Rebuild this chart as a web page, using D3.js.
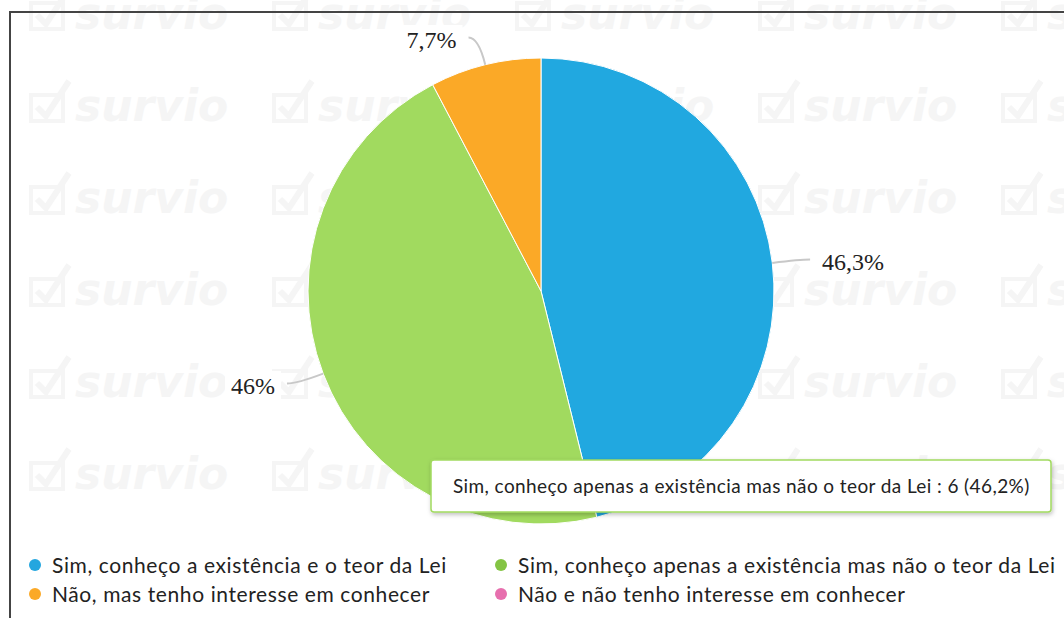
<!DOCTYPE html>
<html>
<head>
<meta charset="utf-8">
<script src="https://cdn.jsdelivr.net/npm/d3@7"></script>
<style>
  html, body { margin: 0; padding: 0; background: #fff; }
  svg { display: block; }
</style>
</head>
<body>
<div id="chart"></div>
<script>
(function () {
  // Data
  const categories = [
    "Sim, conheço a existência e o teor da Lei",
    "Sim, conheço apenas a existência mas não o teor da Lei",
    "Não, mas tenho interesse em conhecer",
    "Não e não tenho interesse em conhecer",
  ];
  const counts = [6, 6, 1, 0];
  const pctLabels = ["46,3%", "46%", "7,7%", ""];
  const colors = ["#21a8e0", "#a1da5f", "#fba927", "#e76fae"];
  const legendColors = ["#23a6df", "#84c444", "#fba927", "#e76fae"];
  const tooltipIndex = 1;
  const tooltipPct = "46,2%";

  // Dimensions
  const width = 1064;
  const height = 618;
  const cx = 541;
  const cy = 291;
  const radius = 233;

  const svg = d3
    .select("#chart")
    .append("svg")
    .attr("width", width)
    .attr("height", height);

  // Watermark
  const wmColor = "#f5f5f5";
  const wm = svg.append("g").attr("fill", wmColor).attr("stroke", wmColor);
  const wmCols = d3.range(5).map((i) => 27 + i * 243);
  const wmRows = d3.range(6).map((i) => 29 + i * 92);
  wmRows.forEach((y) => {
    wmCols.forEach((x) => {
      const t = wm.append("g").attr("transform", `translate(${x},${y})`);
      t.append("rect")
        .attr("x", 4)
        .attr("y", -26)
        .attr("width", 32)
        .attr("height", 26)
        .attr("fill", "none")
        .attr("stroke-width", 4);
      t.append("path")
        .attr("d", "M10,-14 L19,-5 L42,-40")
        .attr("fill", "none")
        .attr("stroke-width", 6);
      t.append("text")
        .attr("x", 48)
        .attr("y", 0)
        .attr("stroke", "none")
        .style("font-family", "'DejaVu Sans', sans-serif")
        .style("font-weight", "bold")
        .style("font-style", "italic")
        .style("font-size", "44px")
        .text("survio");
    });
  });

  // Frame
  svg.append("path")
    .attr("d", `M10,${height} L10,12 L${width},12`)
    .attr("fill", "none")
    .attr("stroke", "#444")
    .attr("stroke-width", 2);

  // Pie
  const pie = d3.pie().sort(null).value((d) => d.count);
  const rows = categories.map((c, i) => ({
    name: c,
    count: counts[i],
    label: pctLabels[i],
    color: colors[i],
  }));
  const arcs = pie(rows);
  const arc = d3.arc().innerRadius(0).outerRadius(radius);

  const g = svg.append("g").attr("transform", `translate(${cx},${cy})`);
  g.selectAll("path.slice")
    .data(arcs.filter((a) => a.data.count > 0))
    .join("path")
    .attr("class", "slice")
    .attr("d", arc)
    .attr("fill", (d) => d.data.color)
    .attr("stroke", "#fff")
    .attr("stroke-width", 1);

  // Data labels
  const polar = (a, r) => [Math.sin(a) * r, -Math.cos(a) * r];
  const labeled = arcs.filter((a) => a.data.count > 0);
  labeled.forEach((d) => {
    const mid = (d.startAngle + d.endAngle) / 2;
    const right = Math.sin(mid) >= 0;
    const side = right ? 1 : -1;
    const p0 = polar(mid, radius);
    const p1 = polar(mid, radius + 28);
    const p2 = [p1[0] + side * 10, p1[1]];
    g.append("path")
      .attr("d", `M${p0[0]},${p0[1]} Q${p1[0]},${p1[1]} ${p2[0]},${p2[1]}`)
      .attr("fill", "none")
      .attr("stroke", "#c8c8c8")
      .attr("stroke-width", 2);
    const text = g.append("text")
      .attr("x", p2[0] + side * 12)
      .attr("y", p2[1] + 2)
      .attr("dy", "0.35em")
      .attr("text-anchor", right ? "start" : "end")
      .style("font-family", "'Liberation Serif', serif")
      .style("font-size", "24px")
      .attr("fill", "#222")
      .text(d.data.label);
    const bb = text.node().getBBox();
    g.insert("rect", "text")
      .attr("x", bb.x - 6)
      .attr("y", bb.y - 2)
      .attr("width", bb.width + 12)
      .attr("height", bb.height + 4)
      .attr("fill", "#fff");
  });

  // Legend
  const legendX = [35, 501];
  const legendY = [565, 594];
  const legend = svg.append("g");
  categories.forEach((c, i) => {
    const x = legendX[i % 2];
    const y = legendY[Math.floor(i / 2)];
    legend.append("circle")
      .attr("cx", x)
      .attr("cy", y)
      .attr("r", 6)
      .attr("fill", legendColors[i]);
    legend.append("text")
      .attr("x", x + 17)
      .attr("y", y)
      .attr("dy", "0.36em")
      .style("font-family", "Lato, sans-serif")
      .style("font-size", "21px")
      .style("letter-spacing", "0.6px")
      .attr("fill", "#222")
      .text(c);
  });

  // Tooltip
  const tip = svg.append("g");
  const defs = svg.append("defs");
  const filter = defs.append("filter").attr("id", "shadow")
    .attr("x", "-5%").attr("y", "-20%").attr("width", "110%").attr("height", "150%");
  filter.append("feDropShadow")
    .attr("dx", 1).attr("dy", 2).attr("stdDeviation", 2)
    .attr("flood-color", "#000").attr("flood-opacity", 0.25);
  tip.append("rect")
    .attr("x", 431)
    .attr("y", 460)
    .attr("width", 620)
    .attr("height", 52)
    .attr("rx", 3)
    .attr("fill", "#fff")
    .attr("stroke", colors[tooltipIndex])
    .attr("stroke-width", 1.5)
    .attr("filter", "url(#shadow)");
  tip.append("text")
    .attr("x", 453)
    .attr("y", 486)
    .attr("dy", "0.36em")
    .style("font-family", "Lato, sans-serif")
    .style("font-size", "19px")
    .style("letter-spacing", "0.4px")
    .attr("fill", "#222")
    .text(`${categories[tooltipIndex]} : ${counts[tooltipIndex]} (${tooltipPct})`);
})();
</script>
</body>
</html>
